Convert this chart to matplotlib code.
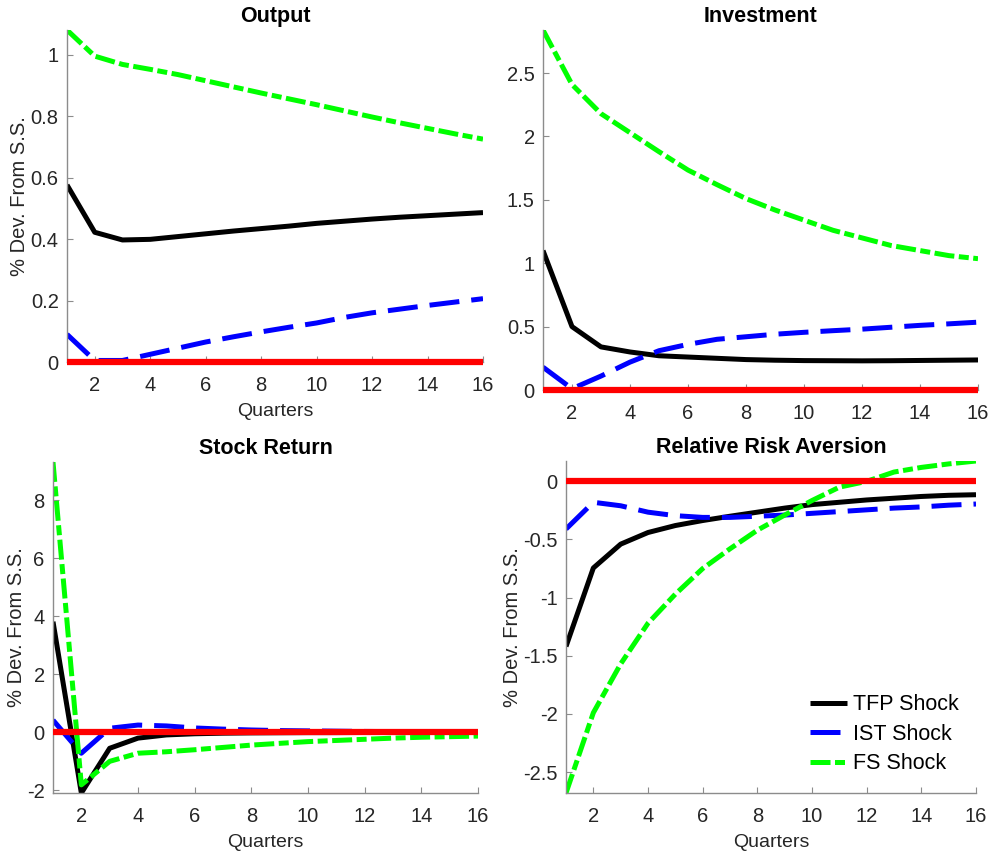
import matplotlib
matplotlib.use("Agg")
import matplotlib.pyplot as plt
from matplotlib.ticker import FuncFormatter
import numpy as np

plt.rcParams['font.family'] = ['Liberation Sans', 'DejaVu Sans']

quarters = list(range(1, 17))

output_tfp = [0.576, 0.422, 0.397, 0.399, 0.408, 0.417, 0.426, 0.434, 0.442, 0.451, 0.458, 0.465, 0.471, 0.476, 0.481, 0.486]
output_ist = [0.09, 0.005, 0.005, 0.025, 0.045, 0.065, 0.082, 0.098, 0.113, 0.127, 0.145, 0.16, 0.172, 0.184, 0.195, 0.206]
output_fs = [1.08, 0.995, 0.968, 0.952, 0.935, 0.915, 0.895, 0.875, 0.856, 0.837, 0.817, 0.797, 0.778, 0.76, 0.742, 0.725]

inv_tfp = [1.10, 0.50, 0.34, 0.30, 0.27, 0.26, 0.25, 0.24, 0.235, 0.232, 0.231, 0.23, 0.231, 0.233, 0.235, 0.237]
inv_ist = [0.18, 0.01, 0.11, 0.22, 0.31, 0.36, 0.40, 0.42, 0.44, 0.455, 0.468, 0.48, 0.495, 0.51, 0.522, 0.535]
inv_fs = [2.84, 2.41, 2.18, 2.03, 1.88, 1.735, 1.62, 1.51, 1.42, 1.34, 1.26, 1.20, 1.14, 1.10, 1.06, 1.036]

ret_tfp = [3.81, -2.09, -0.55, -0.2, -0.09, -0.05, -0.03, -0.02, -0.015, -0.01, -0.01, -0.005, -0.005, 0.0, 0.0, 0.0]
ret_ist = [0.42, -0.72, 0.14, 0.25, 0.22, 0.15, 0.11, 0.08, 0.06, 0.05, 0.04, 0.03, 0.025, 0.02, 0.02, 0.02]
ret_fs = [9.31, -1.81, -1.0, -0.72, -0.67, -0.6, -0.52, -0.44, -0.38, -0.32, -0.28, -0.24, -0.2, -0.17, -0.15, -0.13]

rra_tfp = [-1.42, -0.745, -0.54, -0.44, -0.38, -0.337, -0.30, -0.265, -0.23, -0.20, -0.18, -0.16, -0.145, -0.13, -0.12, -0.115]
rra_ist = [-0.41, -0.18, -0.21, -0.265, -0.295, -0.31, -0.31, -0.30, -0.29, -0.275, -0.26, -0.245, -0.23, -0.22, -0.205, -0.195]
rra_fs = [-2.68, -1.99, -1.57, -1.22, -0.97, -0.75, -0.58, -0.42, -0.29, -0.165, -0.05, 0.0, 0.08, 0.12, 0.15, 0.175]

steady_state = [0.0] * 16

titles = ["Output", "Investment", "Stock Return", "Relative Risk Aversion"]
series_labels = ["TFP Shock", "IST Shock", "FS Shock"]
ylabel_text = "% Dev. From S.S."
xlabel_text = "Quarters"

yticks_list = [
    [0, 0.2, 0.4, 0.6, 0.8, 1],
    [0, 0.5, 1, 1.5, 2, 2.5],
    [-2, 0, 2, 4, 6, 8],
    [-2.5, -2, -1.5, -1, -0.5, 0],
]
xticks = [2, 4, 6, 8, 10, 12, 14, 16]

W, H = 995, 858
fig = plt.figure(figsize=(W / 100, H / 100), dpi=100)

def rect(l, r, t, b):
    return [l / W, 1 - b / H, (r - l) / W, (b - t) / H]

positions = [
    rect(67, 483, 30, 362),
    rect(543, 978, 30, 390),
    rect(53, 478, 462, 793),
    rect(566, 976, 461, 793),
]

data = [
    (output_tfp, output_ist, output_fs),
    (inv_tfp, inv_ist, inv_fs),
    (ret_tfp, ret_ist, ret_fs),
    (rra_tfp, rra_ist, rra_fs),
]

has_ylabel = [True, False, True, True]
has_xlabel = [True, False, True, True]

lw = 3.6
tick_col = '#262626'
axis_col = '#8c8c8c'
fmt = FuncFormatter(lambda v, p: ('%g' % v))

for i in range(4):
    ax = fig.add_axes(positions[i])
    tfp, ist, fs = data[i]
    l1, = ax.plot(quarters, tfp, color='black', lw=lw, solid_capstyle='butt', label=series_labels[0])
    l2, = ax.plot(quarters, ist, color='#0000ff', lw=lw, linestyle=(0, (6, 2.4)), label=series_labels[1])
    l3, = ax.plot(quarters, fs, color='#00ff00', lw=lw, linestyle=(0, (4, 0.9, 2, 0.9)), label=series_labels[2])
    ax.plot(quarters, steady_state, color='#ff0000', lw=4.5, solid_capstyle='butt', clip_on=False, zorder=3)
    allv = list(tfp) + list(ist) + list(fs) + steady_state
    ax.set_xlim(1, 16)
    ax.set_ylim(min(allv), max(allv))
    ax.set_xticks(xticks)
    ax.set_yticks(yticks_list[i])
    ax.yaxis.set_major_formatter(fmt)
    for s in ['top', 'right']:
        ax.spines[s].set_visible(False)
    for s in ['left', 'bottom']:
        ax.spines[s].set_color(axis_col)
        ax.spines[s].set_linewidth(1.0)
    ax.tick_params(direction='in', length=4, width=0.8, color=axis_col, labelcolor=tick_col,
                   labelsize=14.5)
    ax.tick_params(axis='x', pad=10)
    ax.tick_params(axis='y', pad=6)
    ax.set_title(titles[i], fontsize=15.5, fontweight='bold', pad=6)
    if has_ylabel[i]:
        ax.set_ylabel(ylabel_text, fontsize=14.5, color=tick_col, labelpad=1)
    if has_xlabel[i]:
        ax.set_xlabel(xlabel_text, fontsize=14, color=tick_col, labelpad=6)
    if i == 3:
        ax.legend(handles=[l1, l2, l3], loc='lower right', bbox_to_anchor=(0.98, 0.03),
                  frameon=False, fontsize=15.5, handlelength=1.7, handletextpad=0.3,
                  labelspacing=0.4, borderaxespad=0.0)

fig.savefig('out.png', dpi=100)
